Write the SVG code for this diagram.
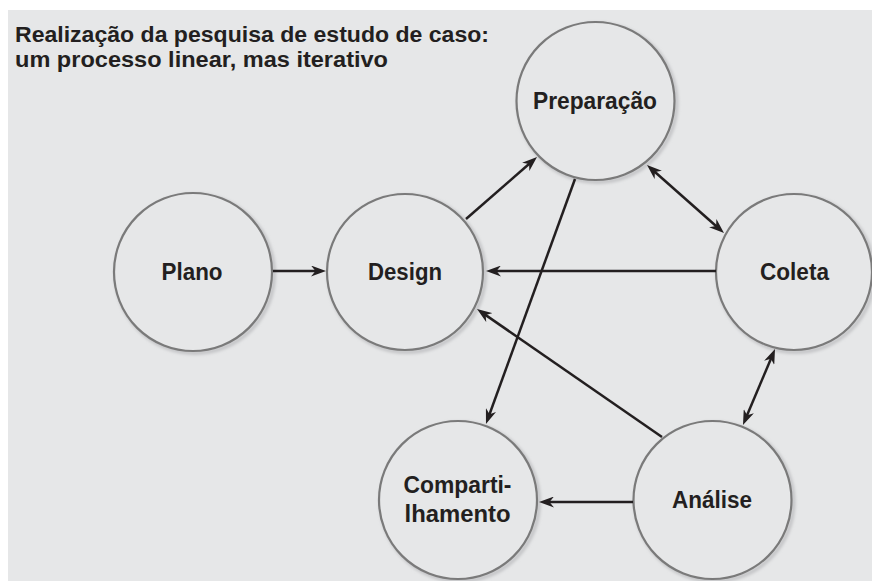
<svg xmlns="http://www.w3.org/2000/svg" width="872" height="581" viewBox="0 0 872 581">
<style>
.bg{fill:#e6e7e8}
.node circle.c{fill:#e6e7e8;stroke:#7a7a7a;stroke-width:2.2}
.node circle.s{fill:none;stroke:#c4c5c7;stroke-width:4;filter:url(#blur)}
text{font-family:"Liberation Sans",Arial,sans-serif;font-weight:bold;fill:#231f20}
.lbl{font-size:23px;text-anchor:middle}
.title{font-size:22px}
#connectors line{stroke:#231f20;stroke-width:2.5;fill:none}
.one{marker-end:url(#ah)}
.two{marker-start:url(#ah);marker-end:url(#ah)}
</style>
<defs>
<filter id="blur" x="-20%" y="-20%" width="140%" height="140%"><feGaussianBlur stdDeviation="1.5"/></filter>
<marker id="ah" markerUnits="userSpaceOnUse" viewBox="0 0 15 11" refX="7" refY="5.5" markerWidth="15" markerHeight="11" orient="auto-start-reverse">
<path d="M0,0 L15,5.5 L0,11 L4.5,5.5 Z" fill="#231f20"/>
</marker>
</defs>
<rect class="bg" x="8" y="10" width="864" height="571"/>
<g id="title">
<text class="title" x="15" y="42" textLength="474" lengthAdjust="spacingAndGlyphs">Realização da pesquisa de estudo de caso:</text>
<text class="title" x="15" y="67" textLength="373" lengthAdjust="spacingAndGlyphs">um processo linear, mas iterativo</text>
</g>
<g id="node-plano" class="node">
<circle class="s" cx="195" cy="274" r="79"/>
<circle class="c" cx="193" cy="272" r="79"/>
<text class="lbl" x="192" y="280" textLength="61" lengthAdjust="spacingAndGlyphs">Plano</text>
</g>
<g id="node-design" class="node">
<circle class="s" cx="407" cy="274" r="78"/>
<circle class="c" cx="405" cy="272" r="78"/>
<text class="lbl" x="405" y="280" textLength="74" lengthAdjust="spacingAndGlyphs">Design</text>
</g>
<g id="node-preparacao" class="node">
<circle class="s" cx="597.5" cy="103" r="79"/>
<circle class="c" cx="595.5" cy="101" r="79"/>
<text class="lbl" x="595" y="109" textLength="124" lengthAdjust="spacingAndGlyphs">Preparação</text>
</g>
<g id="node-coleta" class="node">
<circle class="s" cx="796" cy="274" r="78"/>
<circle class="c" cx="794" cy="272" r="78"/>
<text class="lbl" x="794.5" y="280" textLength="69" lengthAdjust="spacingAndGlyphs">Coleta</text>
</g>
<g id="node-compartilhamento" class="node">
<circle class="s" cx="460" cy="502" r="79"/>
<circle class="c" cx="458" cy="500" r="79"/>
<text class="lbl" x="457.5" y="493" textLength="108" lengthAdjust="spacingAndGlyphs">Comparti-</text>
<text class="lbl" x="457.5" y="522" textLength="106" lengthAdjust="spacingAndGlyphs">lhamento</text>
</g>
<g id="node-analise" class="node">
<circle class="s" cx="714.5" cy="502" r="79"/>
<circle class="c" cx="712.5" cy="500" r="79"/>
<text class="lbl" x="712" y="508" textLength="80" lengthAdjust="spacingAndGlyphs">Análise</text>
</g>
<g id="connectors">
<line class="one" x1="273" y1="271" x2="318" y2="271"/>
<line class="one" x1="466" y1="219" x2="531" y2="162.3"/>
<line class="two" x1="653" y1="170.3" x2="718" y2="227.7"/>
<line class="one" x1="716" y1="271" x2="494" y2="271"/>
<line class="one" x1="575" y1="179" x2="488.7" y2="416.5"/>
<line class="one" x1="662" y1="437" x2="483.6" y2="313.6"/>
<line class="one" x1="633" y1="502" x2="547" y2="502"/>
<line class="two" x1="771.9" y1="356.4" x2="746.1" y2="417.6"/>
</g>
</svg>
